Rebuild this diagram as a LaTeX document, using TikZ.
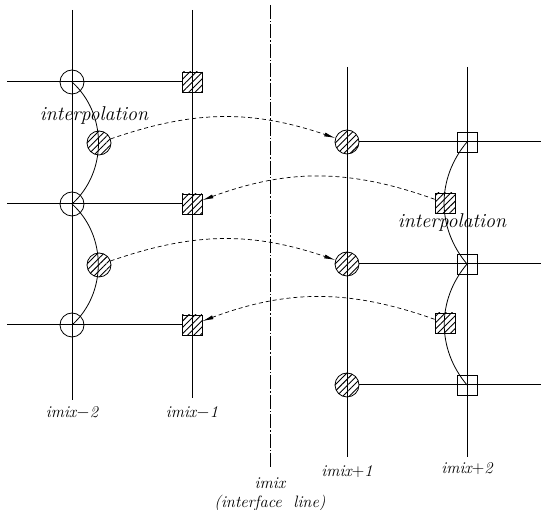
\documentclass[tikz,border=0pt]{standalone}
\usetikzlibrary{patterns.meta,arrows.meta}
\begin{document}
\begin{tikzpicture}[x=1pt,y=1pt,
  gridline/.style={line width=0.7pt},
  hline/.style={line width=1pt},
  hollowc/.style={circle,draw,line width=0.8pt,minimum size=24pt,inner sep=0pt},
  hatchc/.style={circle,draw,line width=0.8pt,minimum size=24pt,inner sep=0pt,
    pattern={Lines[angle=45,distance=4.5pt,line width=0.9pt]}},
  hatchs/.style={rectangle,draw,line width=0.8pt,minimum size=20pt,inner sep=0pt,
    pattern={Lines[angle=45,distance=4.5pt,line width=0.9pt]}},
  hollows/.style={rectangle,draw,line width=0.6pt,minimum size=20pt,inner sep=0pt},
  flow/.style={dash pattern=on 4pt off 3pt,line width=0.7pt,-{Latex[length=11pt,width=4pt]}},
  interp/.style={line width=0.8pt},
  lab/.style={font=\fontsize{16.5}{19}\selectfont\itshape},
  ilab/.style={font=\fontsize{20}{23}\selectfont\itshape}]
\useasboundingbox (0,0) rectangle (541,510);
% line end coordinates
\coordinate (v1t) at (72,500);  \coordinate (v1b) at (72,110);
\coordinate (v2t) at (192,500); \coordinate (v2b) at (192,112);
\coordinate (ift) at (270,505); \coordinate (ifb) at (270,43);
\coordinate (v3t) at (347,443); \coordinate (v3b) at (347,53);
\coordinate (v4t) at (467,443); \coordinate (v4b) at (467,53);
\coordinate (h1) at (7,428); \coordinate (h2) at (7,306); \coordinate (h3) at (7,185);
\coordinate (k1) at (541,368); \coordinate (k2) at (541,246); \coordinate (k3) at (541,125);
% grid lines
\draw[gridline] (v1t) -- (v1b);
\draw[gridline] (v2t) -- (v2b);
\draw[gridline] (v3t) -- (v3b);
\draw[gridline] (v4t) -- (v4b);
\draw[line width=0.5pt,dash pattern=on 14pt off 2pt on 1.5pt off 2pt] (ift) -- (ifb);
% left nodes
\node[hollowc] (lc1) at (72,428) {};
\node[hollowc] (lc2) at (72,306) {};
\node[hollowc] (lc3) at (72,185) {};
\node[hatchc] (lh1) at (99,367) {};
\node[hatchc] (lh2) at (99,245) {};
\node[hatchs] (ls1) at (192,428) {};
\node[hatchs] (ls2) at (192,306) {};
\node[hatchs] (ls3) at (192,185) {};
% right nodes
\node[hatchc] (rc1) at (347,368) {};
\node[hatchc] (rc2) at (347,246) {};
\node[hatchc] (rc3) at (347,125) {};
\node[hollows] (rq1) at (467,368) {};
\node[hollows] (rq2) at (467,246) {};
\node[hollows] (rq3) at (467,125) {};
\node[hatchs] (rh1) at (445,307) {};
\node[hatchs] (rh2) at (445,187) {};
% horizontal lines
\draw[hline] (h1) -- (ls1.west);
\draw[hline] (h2) -- (ls2.west);
\draw[hline] (h3) -- (ls3.west);
\draw[hline] (rc1.east) -- (k1);
\draw[hline] (rc2.east) -- (k2);
\draw[hline] (rc3.east) -- (k3);
% interpolation curves
\draw[interp] (lc1.center) to[bend left=48] (lc2.center);
\draw[interp] (lc2.center) to[bend left=48] (lc3.center);
\draw[interp] (rq1.center) to[bend right=40] (rq2.center);
\draw[interp] (rq2.center) to[bend right=40] (rq3.center);
% dashed transfers
\draw[flow] (lh1) to[bend left=19] (rc1);
\draw[flow] (rh1) to[bend right=20] (ls2);
\draw[flow] (lh2) to[bend left=19] (rc2);
\draw[flow] (rh2) to[bend right=20] (ls3);
% labels
\node[ilab,inner sep=1pt] (t1) at (94,394) {interpolation};
\node[ilab,inner sep=1pt] (t2) at (452,287) {interpolation};
\node[lab] (l1) at (72,97) {imix$-$2};
\node[lab] (l2) at (192,97) {imix$-$1};
\node[lab] (l3) at (347,38) {imix$+$1};
\node[lab] (l4) at (467,41) {imix$+$2};
\node[lab] (l5) at (270,27) {imix};
\node[lab] (l6) at (270,7) {(interface\ \ line)};
\end{tikzpicture}
\end{document}
